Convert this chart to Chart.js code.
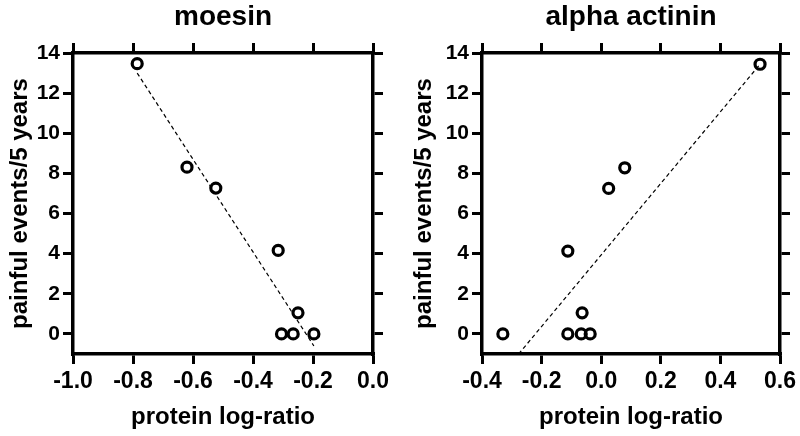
<!DOCTYPE html>
<html>
<head>
<meta charset="utf-8">
<script src="https://cdn.jsdelivr.net/npm/chart.js@4.4.0/dist/chart.umd.min.js"></script>
<style>
  body { margin: 0; background: #fff; }
  #wrap { position: relative; width: 800px; height: 436px; }
  canvas { position: absolute; top: 0; }
  #moesinChart { left: 0; }
  #actininChart { left: 400px; }
</style>
</head>
<body>
<div id="wrap">
  <canvas id="moesinChart" width="400" height="436"></canvas>
  <canvas id="actininChart" width="400" height="436"></canvas>
</div>
<script>
// data
const moesinX = [-0.786, -0.620, -0.524, -0.316, -0.250, -0.305, -0.266, -0.197];
const moesinY = [13.47, 8.31, 7.27, 4.16, 1.05, 0, 0, 0];
const moesinFitX = [-0.786, -0.197];
const moesinFitY = [13.0, -0.6];

const actininX = [0.533, 0.079, 0.025, -0.112, -0.064, -0.330, -0.112, -0.067, -0.037];
const actininY = [13.44, 8.28, 7.25, 4.13, 1.05, 0, 0, 0, 0];
const actininFitX = [-0.277, 0.533];
const actininFitY = [-1, 13.44];

const yMin = -1, yMax = 14, yStep = 2;
const xTitle = 'protein log-ratio';
const yTitle = 'painful events/5 years';

const FONT = '"Liberation Sans", Arial, Helvetica, sans-serif';

function toPoints(xs, ys) {
    return xs.map((x, i) => ({ x: x, y: ys[i] }));
}

// box sizes so the plot area lands where it is in the figure
function makeChart(id, title, xs, ys, fitX, fitY, xMin, xMax, box) {
    const ctx = document.getElementById(id).getContext('2d');

    const axisLine = { display: true, color: '#000', width: 3.5 };
    const tickGrid = { drawOnChartArea: false, drawTicks: true, tickLength: 10, color: '#000', lineWidth: 3 };

    return new Chart(ctx, {
        type: 'scatter',
        data: {
            datasets: [{
                data: toPoints(fitX, fitY),
                showLine: true,
                borderColor: '#000',
                borderWidth: 1.2,
                borderDash: [4, 3],
                pointRadius: 0,
                order: 2
            }, {
                data: toPoints(xs, ys),
                pointRadius: 5,
                pointBorderWidth: 3.2,
                pointBorderColor: '#000',
                pointBackgroundColor: 'rgba(0,0,0,0)',
                showLine: false,
                order: 1
            }]
        },
        options: {
            responsive: false,
            animation: false,
            layout: { padding: 0 },
            plugins: {
                legend: { display: false },
                tooltip: { enabled: false },
                title: {
                    display: true,
                    fullSize: false, // centre over the plot, not the canvas
                    text: title,
                    color: '#000',
                    font: { family: FONT, size: 28, weight: 'bold' },
                    padding: { top: 0, bottom: 0 }
                }
            },
            scales: {
                x: {
                    type: 'linear',
                    position: 'bottom',
                    min: xMin,
                    max: xMax,
                    border: axisLine,
                    grid: tickGrid,
                    ticks: {
                        stepSize: 0.2,
                        color: '#000',
                        font: { family: FONT, size: 23, weight: 'bold' },
                        padding: 4,
                        maxRotation: 0,
                        callback: v => v.toFixed(1)
                    },
                    title: {
                        display: true,
                        text: xTitle,
                        color: '#000',
                        font: { family: FONT, size: 24, weight: 'bold' },
                        padding: { top: 0, bottom: 4 }
                    },
                    afterFit: s => { s.height = box.bottom; }
                },
                x2: {
                    type: 'linear',
                    position: 'top',
                    min: xMin,
                    max: xMax,
                    border: axisLine,
                    grid: tickGrid,
                    ticks: { display: false, stepSize: 0.2 },
                    afterFit: s => { s.height = box.top; }
                },
                y: {
                    type: 'linear',
                    position: 'left',
                    min: yMin,
                    max: yMax,
                    border: axisLine,
                    grid: tickGrid,
                    ticks: {
                        stepSize: yStep,
                        includeBounds: false,
                        color: '#000',
                        font: { family: FONT, size: 21, weight: 'bold' },
                        padding: 3
                    },
                    title: {
                        display: true,
                        text: yTitle,
                        color: '#000',
                        font: { family: FONT, size: 24, weight: 'bold' },
                        padding: { top: box.yTitlePad, bottom: 0 }
                    },
                    afterFit: s => { s.width = box.left; }
                },
                y2: {
                    type: 'linear',
                    position: 'right',
                    min: yMin,
                    max: yMax,
                    border: axisLine,
                    grid: tickGrid,
                    ticks: { display: false, stepSize: yStep, includeBounds: false },
                    afterFit: s => { s.width = box.right; }
                }
            }
        }
    });
}

// title block is 28 * 1.2 = 33.6 tall, plot top should sit at y = 53
makeChart('moesinChart', 'moesin', moesinX, moesinY, moesinFitX, moesinFitY, -1.0, 0.0,
    { left: 73, right: 27, top: 19.4, bottom: 82, yTitlePad: 6 });
makeChart('actininChart', 'alpha actinin', actininX, actininY, actininFitX, actininFitY, -0.4, 0.6,
    { left: 82, right: 19, top: 19.4, bottom: 82, yTitlePad: 10 });
</script>
</body>
</html>
